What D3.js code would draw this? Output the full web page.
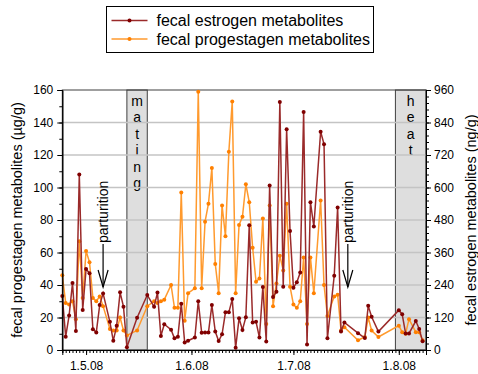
<!DOCTYPE html>
<html>
<head>
<meta charset="utf-8">
<script src="https://cdn.jsdelivr.net/npm/d3@7"></script>
<style>
    body { margin: 0; background: #fff; }
    svg { display: block; font-family: Arial, "Liberation Sans", sans-serif; }
</style>
</head>
<body>
<div id="chart"></div>
<script>
// Sampling days (d.m.yy)
const sampleDates = [
    "24.4.08", "25.4.08", "26.4.08", "27.4.08", "28.4.08", "29.4.08", "30.4.08",
    "1.5.08", "2.5.08", "3.5.08", "4.5.08", "5.5.08", "6.5.08", "8.5.08", "9.5.08",
    "10.5.08", "11.5.08", "12.5.08", "13.5.08", "16.5.08", "19.5.08", "21.5.08", "22.5.08",
    "23.5.08", "24.5.08", "26.5.08", "27.5.08", "28.5.08", "29.5.08", "30.5.08", "31.5.08",
    "2.6.08", "3.6.08", "4.6.08", "5.6.08", "6.6.08", "7.6.08", "8.6.08", "9.6.08",
    "10.6.08", "11.6.08", "12.6.08", "13.6.08", "14.6.08", "15.6.08", "16.6.08", "17.6.08",
    "18.6.08", "19.6.08", "20.6.08", "21.6.08", "22.6.08", "23.6.08", "24.6.08", "25.6.08",
    "26.6.08", "27.6.08", "28.6.08", "29.6.08", "30.6.08",
    "1.7.08", "2.7.08", "3.7.08", "4.7.08", "5.7.08", "6.7.08", "7.7.08", "9.7.08",
    "10.7.08", "11.7.08", "13.7.08", "14.7.08", "15.7.08", "16.7.08", "20.7.08", "22.7.08",
    "23.7.08", "24.7.08", "26.7.08",
    "1.8.08", "2.8.08", "3.8.08", "4.8.08", "6.8.08", "7.8.08", "8.8.08"
];

// fecal progestagen metabolites (µg/g) - left axis
const progestagen = [
    46, 29, 28, 30, 19, 67, 32,
    61, 54, 32, 30, 33, 27, 13, 12,
    12, 20, 12, 9, 12, 27, 30, 29,
    30, 31, 40, 26, 26, 97, 18, 35,
    38, 159, 38, 79, 90, 112, 53, 35,
    89, 70, 122, 153, 35, 77, 82, 102,
    91, 63, 42, 44, 81, 16, 89, 27,
    41, 58, 49, 90, 39,
    28, 26, 30, 57, 16, 57, 35, 92,
    40, 21, 33, 34, 12, 14, 6, 8,
    20, 12, 8,
    15, 11, 10, 19, 11, 11, 6
];

// fecal estrogen metabolites (ng/g) - right axis
const estrogen = [
    199, 49, 127, 247, 70, 648, 148,
    299, 283, 77, 65, 166, 209, 104, 34,
    90, 213, 160, 10, 119, 203, 160, 212,
    52, 95, 75, 43, 49, 171, 28, 34,
    46, 180, 64, 65, 65, 166, 68, 33,
    58, 139, 139, 188, 8, 117, 74, 121,
    461, 102, 104, 46, 233, 31, 607, 196,
    215, 916, 234, 815, 439,
    230, 250, 286, 879, 20, 546, 456, 806,
    760, 43, 274, 526, 68, 102, 62, 44,
    163, 123, 68,
    147, 132, 61, 61, 107, 78, 32
];

const monthTicks = ["1.5.08", "1.6.08", "1.7.08", "1.8.08"];
const leftTicks = [0, 20, 40, 60, 80, 100, 120, 140, 160];
const rightTicks = [0, 120, 240, 360, 480, 600, 720, 840, 960];

const phases = [
    { label: "mating", from: "13.5.08", to: "19.5.08" },
    { label: "heat", from: "31.7.08", to: "9.8.08" }
];
const births = ["6.5.08", "17.7.08"];

const parse = d3.timeParse("%d.%m.%y");
const width = 478, height = 374;
const plot = { left: 62.3, right: 426, top: 90, bottom: 350 };

const svg = d3.select("#chart")
    .append("svg")
    .attr("width", width)
    .attr("height", height);

const x = d3.scaleTime()
    .domain([parse("24.4.08"), parse("9.8.08")])
    .range([plot.left, plot.right]);
const yLeft = d3.scaleLinear().domain([0, 160]).range([plot.bottom, plot.top]);
const yRight = d3.scaleLinear().domain([0, 960]).range([plot.bottom, plot.top]);

// Shaded phases
const phase = svg.append("g").selectAll("g")
    .data(phases)
    .enter().append("g");

phase.append("rect")
    .attr("x", d => x(parse(d.from)))
    .attr("y", plot.top)
    .attr("width", d => x(parse(d.to)) - x(parse(d.from)))
    .attr("height", plot.bottom - plot.top)
    .attr("fill", "#dedede")
    .attr("stroke", "#404040")
    .attr("stroke-width", 1);

// Gridlines
svg.append("g")
    .selectAll("line")
    .data(leftTicks.filter(v => v > 0 && v < 160))
    .enter().append("line")
    .attr("x1", plot.left)
    .attr("x2", plot.right)
    .attr("y1", d => yLeft(d))
    .attr("y2", d => yLeft(d))
    .attr("stroke", "#c4c4c4")
    .attr("stroke-width", 1.5);

// Vertical letters in the phases
phase.each(function (d) {
    const cx = (x(parse(d.from)) + x(parse(d.to))) / 2;
    d3.select(this).selectAll("text")
        .data(d.label.split(""))
        .enter().append("text")
        .attr("x", cx)
        .attr("y", (c, i) => 105.5 + i * 16.5)
        .attr("text-anchor", "middle")
        .attr("font-size", "14px")
        .text(c => c);
});

// Plot border
svg.append("rect")
    .attr("x", plot.left)
    .attr("y", plot.top)
    .attr("width", plot.right - plot.left)
    .attr("height", plot.bottom - plot.top)
    .attr("fill", "none")
    .attr("stroke", "#404040");

// Series
const dates = sampleDates.map(parse);

function drawSeries(values, y, lineColor, dotColor) {
    const g = svg.append("g");
    g.append("path")
        .datum(values)
        .attr("fill", "none")
        .attr("stroke", lineColor)
        .attr("stroke-width", 1.5)
        .attr("d", d3.line().x((v, i) => x(dates[i])).y(v => y(v)));
    g.selectAll("circle")
        .data(values)
        .enter().append("circle")
        .attr("cx", (v, i) => x(dates[i]))
        .attr("cy", v => y(v))
        .attr("r", 2)
        .attr("fill", dotColor);
}

drawSeries(progestagen, yLeft, "#ff9a2e", "#ff8000");
drawSeries(estrogen, yRight, "#9a2a2a", "#800000");

// Parturition arrows
const birth = svg.append("g").selectAll("g")
    .data(births)
    .enter().append("g")
    .attr("transform", d => `translate(${x(parse(d))},0)`);

birth.append("text")
    .attr("transform", "translate(5,243) rotate(-90)")
    .attr("font-size", "14px")
    .text("parturition");

birth.append("line")
    .attr("y1", 244).attr("y2", 287)
    .attr("stroke", "#000").attr("stroke-width", 1.2);

birth.append("path")
    .attr("d", "M-5,270L0,287L5,270")
    .attr("fill", "none")
    .attr("stroke", "#000")
    .attr("stroke-width", 1.2);

// Axes
function styleAxis(g) {
    g.select(".domain").attr("stroke", "#000");
    g.selectAll(".tick line").attr("stroke", "#000");
    g.selectAll("text").attr("font-size", "12px").attr("fill", "#000");
}

svg.append("g")
    .attr("transform", `translate(${plot.left},0)`)
    .call(d3.axisLeft(yLeft).tickValues(d3.range(0, 161, 10)).tickSize(3).tickFormat(""))
    .call(styleAxis);
svg.append("g")
    .attr("transform", `translate(${plot.left},0)`)
    .call(d3.axisLeft(yLeft).tickValues(leftTicks).tickSize(5).tickPadding(4))
    .call(styleAxis);

svg.append("g")
    .attr("transform", `translate(${plot.right},0)`)
    .call(d3.axisRight(yRight).tickValues(d3.range(0, 961, 24)).tickSize(3).tickFormat(""))
    .call(styleAxis);
svg.append("g")
    .attr("transform", `translate(${plot.right},0)`)
    .call(d3.axisRight(yRight).tickValues(rightTicks).tickSize(5).tickPadding(3))
    .call(styleAxis);

svg.append("g")
    .attr("transform", `translate(0,${plot.bottom})`)
    .call(d3.axisBottom(x).ticks(d3.timeDay.every(1)).tickSize(3).tickFormat(""))
    .call(styleAxis);
svg.append("g")
    .attr("transform", `translate(0,${plot.bottom})`)
    .call(d3.axisBottom(x).tickValues(monthTicks.map(parse)).tickSize(5).tickPadding(6)
        .tickFormat(d3.timeFormat("%-d.%-m.%y")))
    .call(styleAxis);

// Axis titles
svg.append("text")
    .attr("transform", `translate(22,${(plot.top + plot.bottom) / 2}) rotate(-90)`)
    .attr("text-anchor", "middle")
    .attr("font-size", "14.5px")
    .text("fecal progestagen metabolites (µg/g)");

svg.append("text")
    .attr("transform", `translate(476,${(plot.top + plot.bottom) / 2}) rotate(-90)`)
    .attr("text-anchor", "middle")
    .attr("font-size", "14.5px")
    .text("fecal estrogen metabolites (ng/g)");

// Legend
const legend = svg.append("g");
legend.append("rect")
    .attr("x", 106.5).attr("y", 6.5)
    .attr("width", 267).attr("height", 46)
    .attr("fill", "#fff")
    .attr("stroke", "#000");

const legendItems = [
    { name: "fecal estrogen metabolites", line: "#9a2a2a", dot: "#800000", y: 20.5 },
    { name: "fecal progestagen metabolites", line: "#ff9a2e", dot: "#ff8000", y: 39 }
];

const item = legend.selectAll("g")
    .data(legendItems)
    .enter().append("g")
    .attr("transform", d => `translate(0,${d.y})`);

item.append("line")
    .attr("x1", 111.5).attr("x2", 147.5)
    .attr("stroke", d => d.line)
    .attr("stroke-width", 1.5);
item.append("circle")
    .attr("cx", 129.5).attr("r", 2)
    .attr("fill", d => d.dot);
item.append("text")
    .attr("x", 156.5)
    .attr("dy", "0.35em")
    .attr("font-size", "16px")
    .text(d => d.name);
</script>
</body>
</html>
